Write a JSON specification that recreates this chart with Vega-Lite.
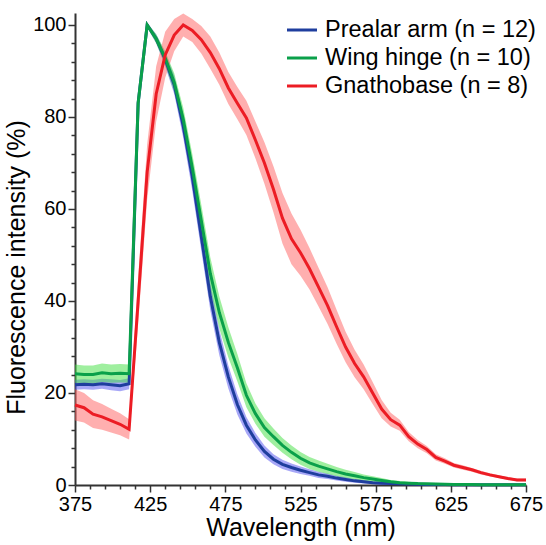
{
 "$schema": "https://vega.github.io/schema/vega-lite/v6.json",
 "width": 451, "height": 472,
 "autosize": "none",
 "padding": {"left": 75, "top": 13, "right": 20, "bottom": 60},
 "config": {"view": {"stroke": null}, "font": "Liberation Sans", "axis": {"ticks": true, "tickWidth": 1.5, "tickColor": "#333"}},
 "data": {"values": [
{"w":375,"s":"Prealar arm (n = 12)","m":21.8,"lo":20.7,"hi":22.9},
{"w":381,"s":"Prealar arm (n = 12)","m":21.9,"lo":20.8,"hi":23.0},
{"w":387,"s":"Prealar arm (n = 12)","m":21.8,"lo":20.7,"hi":22.9},
{"w":393,"s":"Prealar arm (n = 12)","m":22.0,"lo":20.9,"hi":23.1},
{"w":399,"s":"Prealar arm (n = 12)","m":21.8,"lo":20.6,"hi":23.0},
{"w":405,"s":"Prealar arm (n = 12)","m":21.6,"lo":20.4,"hi":22.8},
{"w":411,"s":"Prealar arm (n = 12)","m":22.0,"lo":20.8,"hi":23.2},
{"w":417,"s":"Prealar arm (n = 12)","m":83,"lo":81.5,"hi":84.5},
{"w":423,"s":"Prealar arm (n = 12)","m":100,"lo":99.5,"hi":100.5},
{"w":429,"s":"Prealar arm (n = 12)","m":97,"lo":96,"hi":98},
{"w":435,"s":"Prealar arm (n = 12)","m":92.5,"lo":91,"hi":94},
{"w":441,"s":"Prealar arm (n = 12)","m":87,"lo":85,"hi":89},
{"w":447,"s":"Prealar arm (n = 12)","m":78,"lo":75.5,"hi":80.5},
{"w":453,"s":"Prealar arm (n = 12)","m":67,"lo":64,"hi":70},
{"w":459,"s":"Prealar arm (n = 12)","m":54,"lo":51,"hi":57},
{"w":465,"s":"Prealar arm (n = 12)","m":41,"lo":38,"hi":44},
{"w":471,"s":"Prealar arm (n = 12)","m":31,"lo":28.2,"hi":33.8},
{"w":477,"s":"Prealar arm (n = 12)","m":23.5,"lo":21,"hi":26},
{"w":483,"s":"Prealar arm (n = 12)","m":17.5,"lo":15.3,"hi":19.7},
{"w":489,"s":"Prealar arm (n = 12)","m":13,"lo":11.2,"hi":14.8},
{"w":495,"s":"Prealar arm (n = 12)","m":9.8,"lo":8.3,"hi":11.3},
{"w":501,"s":"Prealar arm (n = 12)","m":7.3,"lo":6.0,"hi":8.6},
{"w":507,"s":"Prealar arm (n = 12)","m":5.6,"lo":4.5,"hi":6.7},
{"w":513,"s":"Prealar arm (n = 12)","m":4.5,"lo":3.5,"hi":5.5},
{"w":519,"s":"Prealar arm (n = 12)","m":3.8,"lo":2.9,"hi":4.7},
{"w":525,"s":"Prealar arm (n = 12)","m":3.2,"lo":2.4,"hi":4.0},
{"w":531,"s":"Prealar arm (n = 12)","m":2.7,"lo":2.0,"hi":3.4},
{"w":537,"s":"Prealar arm (n = 12)","m":2.2,"lo":1.5,"hi":2.9},
{"w":543,"s":"Prealar arm (n = 12)","m":1.9,"lo":1.3,"hi":2.5},
{"w":549,"s":"Prealar arm (n = 12)","m":1.5,"lo":1.0,"hi":2.0},
{"w":555,"s":"Prealar arm (n = 12)","m":1.2,"lo":0.7,"hi":1.7},
{"w":561,"s":"Prealar arm (n = 12)","m":0.9,"lo":0.5,"hi":1.3},
{"w":567,"s":"Prealar arm (n = 12)","m":0.7,"lo":0.3,"hi":1.1},
{"w":573,"s":"Prealar arm (n = 12)","m":0.5,"lo":0.2,"hi":0.8},
{"w":579,"s":"Prealar arm (n = 12)","m":0.4,"lo":0.1,"hi":0.7},
{"w":585,"s":"Prealar arm (n = 12)","m":0.3,"lo":0.05,"hi":0.55},
{"w":591,"s":"Prealar arm (n = 12)","m":0.25,"lo":0.05,"hi":0.45},
{"w":597,"s":"Prealar arm (n = 12)","m":0.2,"lo":0,"hi":0.4},
{"w":603,"s":"Prealar arm (n = 12)","m":0.15,"lo":0,"hi":0.3},
{"w":609,"s":"Prealar arm (n = 12)","m":0.12,"lo":0,"hi":0.24},
{"w":615,"s":"Prealar arm (n = 12)","m":0.1,"lo":0,"hi":0.2},
{"w":621,"s":"Prealar arm (n = 12)","m":0.1,"lo":0,"hi":0.2},
{"w":627,"s":"Prealar arm (n = 12)","m":0.08,"lo":0,"hi":0.16},
{"w":633,"s":"Prealar arm (n = 12)","m":0.07,"lo":0,"hi":0.14},
{"w":639,"s":"Prealar arm (n = 12)","m":0.06,"lo":0,"hi":0.12},
{"w":645,"s":"Prealar arm (n = 12)","m":0.05,"lo":0,"hi":0.1},
{"w":651,"s":"Prealar arm (n = 12)","m":0.05,"lo":0,"hi":0.1},
{"w":657,"s":"Prealar arm (n = 12)","m":0.05,"lo":0,"hi":0.1},
{"w":663,"s":"Prealar arm (n = 12)","m":0.04,"lo":0,"hi":0.08},
{"w":669,"s":"Prealar arm (n = 12)","m":0.04,"lo":0,"hi":0.08},
{"w":675,"s":"Prealar arm (n = 12)","m":0.04,"lo":0,"hi":0.08},
{"w":375,"s":"Wing hinge (n = 10)","m":24.2,"lo":22.2,"hi":26.2},
{"w":381,"s":"Wing hinge (n = 10)","m":24.0,"lo":22.0,"hi":26.0},
{"w":387,"s":"Wing hinge (n = 10)","m":24.0,"lo":22.0,"hi":26.0},
{"w":393,"s":"Wing hinge (n = 10)","m":24.4,"lo":22.4,"hi":26.4},
{"w":399,"s":"Wing hinge (n = 10)","m":24.2,"lo":22.2,"hi":26.2},
{"w":405,"s":"Wing hinge (n = 10)","m":24.3,"lo":22.3,"hi":26.3},
{"w":411,"s":"Wing hinge (n = 10)","m":24.2,"lo":22.2,"hi":26.2},
{"w":417,"s":"Wing hinge (n = 10)","m":83,"lo":81.5,"hi":84.5},
{"w":423,"s":"Wing hinge (n = 10)","m":100,"lo":99.5,"hi":100.5},
{"w":429,"s":"Wing hinge (n = 10)","m":97,"lo":96,"hi":98},
{"w":435,"s":"Wing hinge (n = 10)","m":92.8,"lo":91.3,"hi":94.3},
{"w":441,"s":"Wing hinge (n = 10)","m":87.5,"lo":85.5,"hi":89.5},
{"w":447,"s":"Wing hinge (n = 10)","m":79.5,"lo":77,"hi":82},
{"w":453,"s":"Wing hinge (n = 10)","m":69,"lo":66,"hi":72},
{"w":459,"s":"Wing hinge (n = 10)","m":57.5,"lo":54,"hi":61},
{"w":465,"s":"Wing hinge (n = 10)","m":46,"lo":42.5,"hi":49.5},
{"w":471,"s":"Wing hinge (n = 10)","m":37.5,"lo":34,"hi":41},
{"w":477,"s":"Wing hinge (n = 10)","m":31,"lo":27.7,"hi":34.3},
{"w":483,"s":"Wing hinge (n = 10)","m":25.5,"lo":22.5,"hi":28.5},
{"w":489,"s":"Wing hinge (n = 10)","m":19.5,"lo":16.9,"hi":22.1},
{"w":495,"s":"Wing hinge (n = 10)","m":15.5,"lo":13.3,"hi":17.7},
{"w":501,"s":"Wing hinge (n = 10)","m":12.5,"lo":10.5,"hi":14.5},
{"w":507,"s":"Wing hinge (n = 10)","m":10.5,"lo":8.7,"hi":12.3},
{"w":513,"s":"Wing hinge (n = 10)","m":8.6,"lo":7.0,"hi":10.2},
{"w":519,"s":"Wing hinge (n = 10)","m":7.1,"lo":5.6,"hi":8.6},
{"w":525,"s":"Wing hinge (n = 10)","m":5.8,"lo":4.4,"hi":7.2},
{"w":531,"s":"Wing hinge (n = 10)","m":4.8,"lo":3.5,"hi":6.1},
{"w":537,"s":"Wing hinge (n = 10)","m":4.1,"lo":2.9,"hi":5.3},
{"w":543,"s":"Wing hinge (n = 10)","m":3.5,"lo":2.4,"hi":4.6},
{"w":549,"s":"Wing hinge (n = 10)","m":2.9,"lo":1.9,"hi":3.9},
{"w":555,"s":"Wing hinge (n = 10)","m":2.4,"lo":1.5,"hi":3.3},
{"w":561,"s":"Wing hinge (n = 10)","m":2.0,"lo":1.2,"hi":2.8},
{"w":567,"s":"Wing hinge (n = 10)","m":1.6,"lo":0.9,"hi":2.3},
{"w":573,"s":"Wing hinge (n = 10)","m":1.3,"lo":0.7,"hi":1.9},
{"w":579,"s":"Wing hinge (n = 10)","m":1.0,"lo":0.5,"hi":1.5},
{"w":585,"s":"Wing hinge (n = 10)","m":0.7,"lo":0.3,"hi":1.1},
{"w":591,"s":"Wing hinge (n = 10)","m":0.5,"lo":0.15,"hi":0.85},
{"w":597,"s":"Wing hinge (n = 10)","m":0.4,"lo":0.1,"hi":0.7},
{"w":603,"s":"Wing hinge (n = 10)","m":0.3,"lo":0.05,"hi":0.55},
{"w":609,"s":"Wing hinge (n = 10)","m":0.25,"lo":0.05,"hi":0.45},
{"w":615,"s":"Wing hinge (n = 10)","m":0.2,"lo":0,"hi":0.4},
{"w":621,"s":"Wing hinge (n = 10)","m":0.15,"lo":0,"hi":0.3},
{"w":627,"s":"Wing hinge (n = 10)","m":0.12,"lo":0,"hi":0.24},
{"w":633,"s":"Wing hinge (n = 10)","m":0.1,"lo":0,"hi":0.2},
{"w":639,"s":"Wing hinge (n = 10)","m":0.1,"lo":0,"hi":0.2},
{"w":645,"s":"Wing hinge (n = 10)","m":0.08,"lo":0,"hi":0.16},
{"w":651,"s":"Wing hinge (n = 10)","m":0.07,"lo":0,"hi":0.14},
{"w":657,"s":"Wing hinge (n = 10)","m":0.06,"lo":0,"hi":0.12},
{"w":663,"s":"Wing hinge (n = 10)","m":0.05,"lo":0,"hi":0.1},
{"w":669,"s":"Wing hinge (n = 10)","m":0.05,"lo":0,"hi":0.1},
{"w":675,"s":"Wing hinge (n = 10)","m":0.05,"lo":0,"hi":0.1},
{"w":375,"s":"Gnathobase (n = 8)","m":17.4,"lo":14.0,"hi":20.8},
{"w":381,"s":"Gnathobase (n = 8)","m":16.8,"lo":13.6,"hi":20.0},
{"w":387,"s":"Gnathobase (n = 8)","m":15.4,"lo":12.4,"hi":18.4},
{"w":393,"s":"Gnathobase (n = 8)","m":14.8,"lo":12.0,"hi":17.6},
{"w":399,"s":"Gnathobase (n = 8)","m":14.0,"lo":11.4,"hi":16.6},
{"w":405,"s":"Gnathobase (n = 8)","m":13.2,"lo":10.8,"hi":15.6},
{"w":411,"s":"Gnathobase (n = 8)","m":12.1,"lo":9.9,"hi":14.3},
{"w":417,"s":"Gnathobase (n = 8)","m":40,"lo":35,"hi":45},
{"w":423,"s":"Gnathobase (n = 8)","m":68,"lo":62,"hi":74},
{"w":429,"s":"Gnathobase (n = 8)","m":85,"lo":79,"hi":91},
{"w":435,"s":"Gnathobase (n = 8)","m":93.5,"lo":88.5,"hi":98.5},
{"w":441,"s":"Gnathobase (n = 8)","m":97.8,"lo":94.3,"hi":101.3},
{"w":447,"s":"Gnathobase (n = 8)","m":100,"lo":97.5,"hi":102.5},
{"w":453,"s":"Gnathobase (n = 8)","m":98.8,"lo":96.3,"hi":101.3},
{"w":459,"s":"Gnathobase (n = 8)","m":96.8,"lo":93.8,"hi":99.8},
{"w":465,"s":"Gnathobase (n = 8)","m":94,"lo":90.5,"hi":97.5},
{"w":471,"s":"Gnathobase (n = 8)","m":90.5,"lo":87,"hi":94},
{"w":477,"s":"Gnathobase (n = 8)","m":86.3,"lo":82.8,"hi":89.8},
{"w":483,"s":"Gnathobase (n = 8)","m":83,"lo":79.5,"hi":86.5},
{"w":489,"s":"Gnathobase (n = 8)","m":79.8,"lo":76.1,"hi":83.5},
{"w":495,"s":"Gnathobase (n = 8)","m":75,"lo":71,"hi":79},
{"w":501,"s":"Gnathobase (n = 8)","m":70,"lo":65.5,"hi":74.5},
{"w":507,"s":"Gnathobase (n = 8)","m":64.3,"lo":59.3,"hi":69.3},
{"w":513,"s":"Gnathobase (n = 8)","m":58,"lo":52.5,"hi":63.5},
{"w":519,"s":"Gnathobase (n = 8)","m":53.5,"lo":48,"hi":59},
{"w":525,"s":"Gnathobase (n = 8)","m":50.5,"lo":45.5,"hi":55.5},
{"w":531,"s":"Gnathobase (n = 8)","m":47,"lo":42.5,"hi":51.5},
{"w":537,"s":"Gnathobase (n = 8)","m":43,"lo":38.8,"hi":47.2},
{"w":543,"s":"Gnathobase (n = 8)","m":39,"lo":35,"hi":43},
{"w":549,"s":"Gnathobase (n = 8)","m":34.4,"lo":30.7,"hi":38.1},
{"w":555,"s":"Gnathobase (n = 8)","m":30,"lo":26.7,"hi":33.3},
{"w":561,"s":"Gnathobase (n = 8)","m":26.4,"lo":23.4,"hi":29.4},
{"w":567,"s":"Gnathobase (n = 8)","m":23.5,"lo":20.8,"hi":26.2},
{"w":573,"s":"Gnathobase (n = 8)","m":20,"lo":17.6,"hi":22.4},
{"w":579,"s":"Gnathobase (n = 8)","m":16.5,"lo":14.5,"hi":18.5},
{"w":585,"s":"Gnathobase (n = 8)","m":14.2,"lo":12.7,"hi":15.7},
{"w":591,"s":"Gnathobase (n = 8)","m":13,"lo":11.8,"hi":14.2},
{"w":597,"s":"Gnathobase (n = 8)","m":10.5,"lo":9.5,"hi":11.5},
{"w":603,"s":"Gnathobase (n = 8)","m":8.9,"lo":8.0,"hi":9.8},
{"w":609,"s":"Gnathobase (n = 8)","m":7.7,"lo":6.9,"hi":8.5},
{"w":615,"s":"Gnathobase (n = 8)","m":6,"lo":5.3,"hi":6.7},
{"w":621,"s":"Gnathobase (n = 8)","m":5.2,"lo":4.6,"hi":5.8},
{"w":627,"s":"Gnathobase (n = 8)","m":4.3,"lo":3.8,"hi":4.8},
{"w":633,"s":"Gnathobase (n = 8)","m":3.8,"lo":3.3,"hi":4.3},
{"w":639,"s":"Gnathobase (n = 8)","m":3.3,"lo":2.9,"hi":3.7},
{"w":645,"s":"Gnathobase (n = 8)","m":2.7,"lo":2.3,"hi":3.1},
{"w":651,"s":"Gnathobase (n = 8)","m":2.2,"lo":1.85,"hi":2.55},
{"w":657,"s":"Gnathobase (n = 8)","m":1.8,"lo":1.5,"hi":2.1},
{"w":663,"s":"Gnathobase (n = 8)","m":1.4,"lo":1.1,"hi":1.7},
{"w":669,"s":"Gnathobase (n = 8)","m":1.1,"lo":0.8,"hi":1.4},
{"w":675,"s":"Gnathobase (n = 8)","m":1.1,"lo":0.8,"hi":1.4}
 ]},
 "encoding": {
  "x": {"field": "w", "type": "quantitative",
   "scale": {"domain": [375, 675], "nice": false, "zero": false},
   "axis": {
    "title": "Wavelength (nm)",
    "values": [375,385,395,405,415,425,435,445,455,465,475,485,495,505,515,525,535,545,555,565,575,585,595,605,615,625,635,645,655,665,675],
    "labelExpr": "(datum.value - 375) % 50 === 0 ? datum.label : ''",
    "labelFlush": false, "labelOverlap": false, "labelBound": false,
    "labelFontSize": 20, "labelColor": "#000", "labelPadding": 2,
    "tickSize": {"condition": {"test": "(datum.value - 375) % 50 === 0", "value": 7}, "value": 4},
    "domainColor": "#333", "domainWidth": 2,
    "grid": false,
    "titleFontSize": 25, "titleFontWeight": "normal", "titleColor": "#000",
    "titleBaseline": "alphabetic", "titleY": 50
   }}
 },
 "layer": [
  {"mark": {"type": "area", "opacity": 0.5},
   "encoding": {
    "y": {"field": "lo", "type": "quantitative", "stack": null,
     "scale": {"domain": [0, 102.6], "nice": false},
     "axis": {
      "title": "Fluorescence intensity (%)",
      "values": [0,4,8,12,16,20,24,28,32,36,40,44,48,52,56,60,64,68,72,76,80,84,88,92,96,100],
      "labelExpr": "datum.value % 20 === 0 ? datum.label : ''",
      "labelOverlap": false, "labelBound": false, "labelFlush": false,
      "labelFontSize": 20, "labelColor": "#000", "labelPadding": 2,
      "tickSize": {"condition": {"test": "datum.value % 20 === 0", "value": 7}, "value": 4},
      "domainColor": "#333", "domainWidth": 2,
      "grid": false,
      "titleFontSize": 25, "titleFontWeight": "normal", "titleColor": "#000",
      "titleBaseline": "alphabetic", "titleX": -51, "titleY": 254
     }},
    "y2": {"field": "hi"},
    "color": {"field": "s", "type": "nominal",
     "scale": {"domain": ["Prealar arm (n = 12)", "Wing hinge (n = 10)", "Gnathobase (n = 8)"], "range": ["#5050f0", "#40e040", "#ff6060"]},
     "legend": null}
   }},
  {"mark": {"type": "line", "strokeWidth": 3},
   "encoding": {
    "y": {"field": "m", "type": "quantitative",
     "axis": {
      "title": "Fluorescence intensity (%)",
      "values": [0,4,8,12,16,20,24,28,32,36,40,44,48,52,56,60,64,68,72,76,80,84,88,92,96,100],
      "labelExpr": "datum.value % 20 === 0 ? datum.label : ''",
      "labelOverlap": false, "labelBound": false, "labelFlush": false,
      "labelFontSize": 20, "labelColor": "#000", "labelPadding": 2,
      "tickSize": {"condition": {"test": "datum.value % 20 === 0", "value": 7}, "value": 4},
      "domainColor": "#333", "domainWidth": 2,
      "grid": false,
      "titleFontSize": 25, "titleFontWeight": "normal", "titleColor": "#000",
      "titleBaseline": "alphabetic", "titleX": -51, "titleY": 254
     }},
    "color": {"field": "s", "type": "nominal",
     "scale": {"domain": ["Prealar arm (n = 12)", "Wing hinge (n = 10)", "Gnathobase (n = 8)"], "range": ["#1f3e9e", "#0aa04a", "#ec1c24"]},
     "legend": {"title": null, "orient": "none", "legendX": 210.5, "legendY": 0.5,
      "padding": 0, "symbolType": "stroke", "symbolSize": 900, "symbolStrokeWidth": 3,
      "labelFontSize": 23.5, "labelColor": "#000", "labelOffset": 6.5, "rowPadding": -8, "labelLimit": 400}}
   }}
 ],
 "resolve": {"scale": {"color": "independent"}}
}
